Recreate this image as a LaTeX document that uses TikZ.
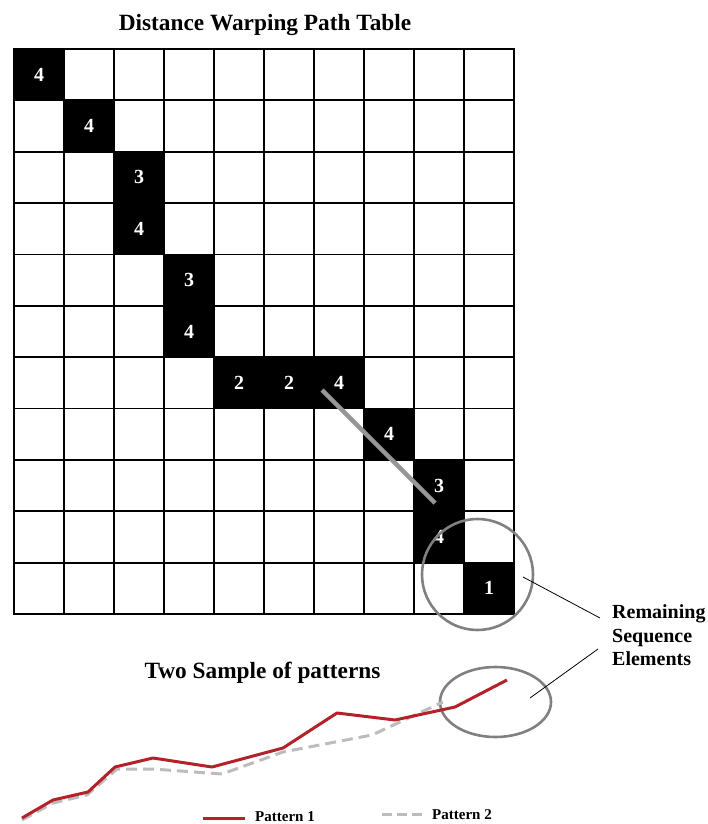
\documentclass[tikz,border=0pt]{standalone}
\usepackage{fontspec}
\setmainfont{Liberation Serif}
\usetikzlibrary{shapes.geometric}
\definecolor{pathred}{RGB}{178,34,40}
\definecolor{dashgray}{RGB}{188,188,188}
\definecolor{ringgray}{RGB}{128,128,128}
\definecolor{warpgray}{RGB}{150,150,150}
\begin{document}
\begin{tikzpicture}[x=1pt,y=-1pt,
  gridline/.style={line width=1.8pt,black},
  pathcell/.style={rectangle,fill=black,minimum width=50pt,minimum height=51.36pt,inner sep=0pt,text=white,font=\fontsize{20}{24}\selectfont\bfseries},
  titletext/.style={font=\fontsize{23.3}{28}\selectfont\bfseries,inner sep=0pt,anchor=base},
  remtext/.style={font=\fontsize{20}{24}\selectfont\bfseries,inner sep=0pt,anchor=base west},
  ring/.style={draw=ringgray,line width=2.6pt,inner sep=0pt},
  callout/.style={line width=0.8pt,black},
  warpline/.style={draw=warpgray,line width=4.5pt},
  pattern1/.style={draw=pathred,line width=3pt,line join=round},
  pattern2/.style={draw=dashgray,line width=3pt,dash pattern=on 11pt off 6pt},
  legendtext/.style={font=\fontsize{15}{18}\selectfont\bfseries,inner sep=0pt,anchor=west}]
\useasboundingbox (0,0) rectangle (707,824);

% titles
\node[titletext] (ttop) at (265,31) {Distance Warping Path Table};
\node[titletext] (tbot) at (262.5,678) {Two Sample of patterns};

% grid
\foreach \i in {0,...,10} \draw[gridline] ({14+50*\i},49) -- ({14+50*\i},614);
\foreach \j in {0,...,11} \draw[gridline] (13.1,{49+51.3636*\j}) -- (514.9,{49+51.3636*\j});

% warping path cells
\foreach \c/\r/\v [count=\k] in {0/0/4,1/1/4,2/2/3,2/3/4,3/4/3,3/5/4,4/6/2,5/6/2,6/6/4,7/7/4,8/8/3,8/9/4,9/10/1}
  \node[pathcell] (cell\k) at ({39+50*\c},{74.68+51.3636*\r}) {\v};

% gray diagonal
\coordinate (w1) at (322,390);
\coordinate (w2) at (435,503);
\draw[warpline] (w1) -- (w2);

% rings
\node[ring,circle,minimum size=111pt] (endring) at (477.5,574.5) {};
\node[ring,ellipse,minimum width=111pt,minimum height=70pt] (endoval) at (495.5,702) {};

% label
\node[remtext] (rem1) at (612,618) {Remaining};
\node[remtext] (rem2) at (612,642) {Sequence};
\node[remtext] (rem3) at (612,665) {Elements};

\coordinate (a1) at (523,577);
\coordinate (a2) at (600,618);
\coordinate (b1) at (598,649);
\coordinate (b2) at (530,698);
\draw[callout] (a1) -- (a2);
\draw[callout] (b1) -- (b2);

% patterns
\draw[pattern2] (22,820) -- (53,803) -- (87,795) -- (117,769) -- (153,769) -- (222,774) -- (283,752) -- (372,735) -- (443,702);
\draw[pattern1] (22,818) -- (53,800) -- (88,792) -- (115,767) -- (153,758) -- (212,767) -- (283,748) -- (337,713) -- (395,720) -- (455,707) -- (507,680);

% legend
\coordinate (l1a) at (203,818);
\coordinate (l1b) at (245,818);
\draw[pattern1] (l1a) -- (l1b);
\node[legendtext] (leg1) at (255,817) {Pattern 1};
\coordinate (l2a) at (382,814);
\coordinate (l2b) at (422,814);
\draw[pattern2,dash pattern=on 10pt off 5pt] (l2a) -- (l2b);
\node[legendtext] (leg2) at (432,815) {Pattern 2};
\end{tikzpicture}
\end{document}
